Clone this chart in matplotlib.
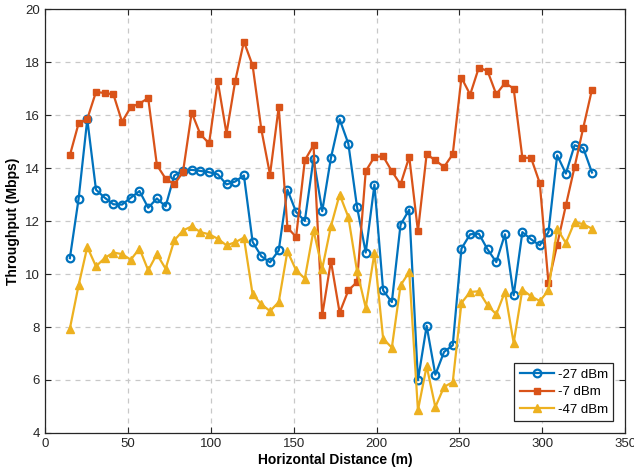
import matplotlib
matplotlib.use("Agg")
import matplotlib.pyplot as plt

plt.rcParams["font.family"] = ["Liberation Sans", "DejaVu Sans"]

# horizontal distance of each measurement point (m)
distance = [15.0, 20.25, 25.5, 30.75, 36.0, 41.25, 46.5, 51.75, 57.0, 62.25, 67.5,
            72.75, 78.0, 83.25, 88.5, 93.75, 99.0, 104.25, 109.5, 114.75, 120.0,
            125.25, 130.5, 135.75, 141.0, 146.25, 151.5, 156.75, 162.0, 167.25, 172.5,
            177.75, 183.0, 188.25, 193.5, 198.75, 204.0, 209.25, 214.5, 219.75, 225.0,
            230.25, 235.5, 240.75, 246.0, 251.25, 256.5, 261.75, 267.0, 272.25, 277.5,
            282.75, 288.0, 293.25, 298.5, 303.75, 309.0, 314.25, 319.5, 324.75, 330.0]

tput_m27 = [10.60, 12.83, 15.84, 13.18, 12.88, 12.63, 12.62, 12.88, 13.13, 12.50, 12.85,
            12.55, 13.72, 13.89, 13.93, 13.89, 13.84, 13.76, 13.38, 13.49, 13.72,
            11.21, 10.67, 10.44, 10.89, 13.18, 12.34, 12.00, 14.35, 12.37, 14.38,
            15.84, 14.92, 12.53, 10.81, 13.37, 9.38, 8.94, 11.86, 12.43, 5.99,
            8.04, 6.20, 7.06, 7.31, 10.96, 11.50, 11.52, 10.93, 10.45, 11.50,
            9.20, 11.58, 11.31, 11.08, 11.58, 14.48, 13.79, 14.86, 14.75, 13.83]

tput_m7 = [14.48, 15.68, 15.85, 16.87, 16.83, 16.78, 15.74, 16.30, 16.43, 16.64, 14.11,
           13.60, 13.38, 13.85, 16.09, 15.27, 14.93, 17.27, 15.30, 17.28, 18.77,
           17.87, 15.46, 13.75, 16.30, 11.75, 11.40, 14.29, 14.86, 8.44, 10.49,
           8.54, 9.38, 9.70, 13.88, 14.42, 14.44, 13.88, 13.38, 14.42, 11.62,
           14.52, 14.29, 14.04, 14.52, 17.41, 16.77, 17.79, 17.66, 16.78, 17.21,
           17.00, 14.39, 14.38, 13.43, 9.66, 11.11, 12.59, 14.04, 15.52, 16.96]

tput_m47 = [7.94, 9.57, 11.02, 10.29, 10.60, 10.81, 10.75, 10.54, 10.96, 10.14, 10.75,
            10.20, 11.27, 11.64, 11.80, 11.58, 11.50, 11.33, 11.08, 11.20, 11.37,
            9.23, 8.86, 8.60, 8.94, 10.86, 10.14, 9.83, 11.65, 10.20, 11.80,
            13.00, 12.15, 10.11, 8.73, 10.79, 7.56, 7.22, 9.57, 10.08, 4.86,
            6.52, 4.98, 5.74, 5.92, 8.91, 9.32, 9.35, 8.82, 8.48, 9.33,
            7.40, 9.41, 9.16, 8.98, 9.38, 11.71, 11.17, 11.96, 11.88, 11.71]

fig = plt.figure(figsize=(6.34, 4.74), dpi=100)
ax = fig.add_axes([0.071, 0.0865, 0.915, 0.8945])

ax.plot(distance, tput_m27, "-o", color="#0072BD", lw=1.6, ms=5.5,
        mfc="none", mew=1.6, label="-27 dBm")
ax.plot(distance, tput_m7, "-s", color="#D95319", lw=1.6, ms=4.5,
        mfc="#D95319", mew=1.0, label="-7 dBm")
ax.plot(distance, tput_m47, "-^", color="#EDB120", lw=1.6, ms=6,
        mfc="#EDB120", mew=1.0, label="-47 dBm")

ax.set_xlim(0, 350)
ax.set_ylim(4, 20)
ax.set_xticks(range(0, 351, 50))
ax.set_yticks(range(4, 21, 2))
ax.grid(True, ls=(0, (4, 4)), color="#c8c8c8", lw=0.9)
ax.tick_params(direction="in", top=True, right=True, labelsize=9.5, length=4,
               width=0.8, colors="#262626")
for s in ax.spines.values():
    s.set_color("#262626")
    s.set_linewidth(0.9)

ax.set_xlabel("Horizontal Distance (m)", fontsize=10, fontweight="bold", labelpad=2)
ax.set_ylabel("Throughput (Mbps)", fontsize=10, fontweight="bold", labelpad=4)

leg = ax.legend(loc="lower right", fontsize=9.5, fancybox=False, framealpha=1,
                edgecolor="#262626", handlelength=2.6, borderpad=0.4,
                labelspacing=0.4, handletextpad=0.3, borderaxespad=0.9)
leg.get_frame().set_linewidth(0.9)

fig.savefig("out.png", dpi=100)
plt.close(fig)
